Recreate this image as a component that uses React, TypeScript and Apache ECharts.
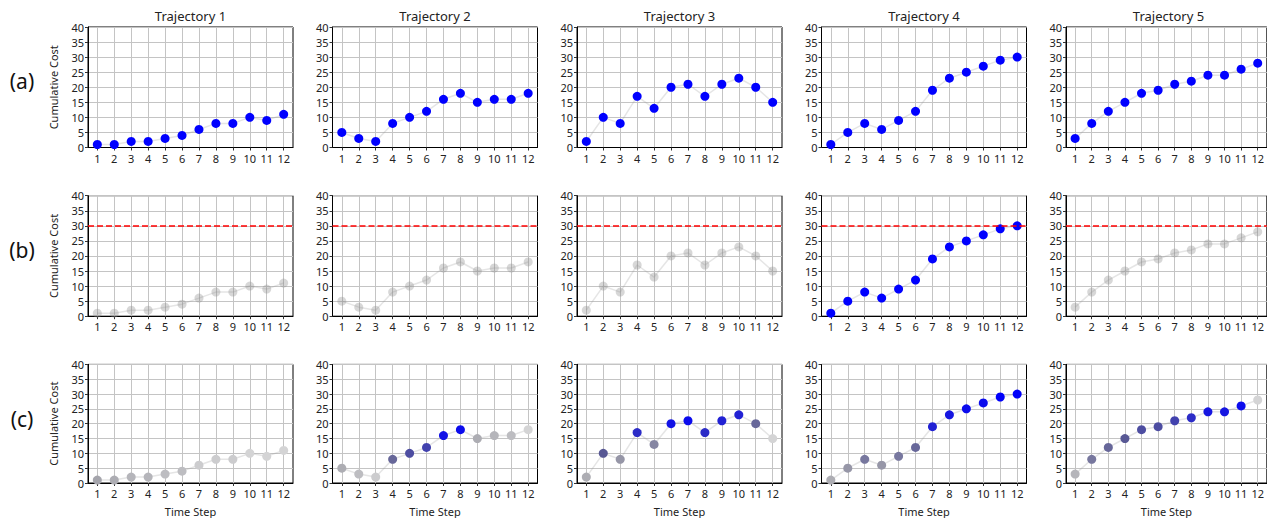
import React, { useEffect, useRef } from "react";
import * as echarts from "echarts";

// ---------- data ----------
const steps = [1, 2, 3, 4, 5, 6, 7, 8, 9, 10, 11, 12];
const trajectoryNames = ["Trajectory 1", "Trajectory 2", "Trajectory 3", "Trajectory 4", "Trajectory 5"];
const rowLabels = ["(a)", "(b)", "(c)"];

const costT1 = [1, 1, 2, 2, 3, 4, 6, 8, 8, 10, 9, 11];
const costT2 = [5, 3, 2, 8, 10, 12, 16, 18, 15, 16, 16, 18];
const costT3 = [2, 10, 8, 17, 13, 20, 21, 17, 21, 23, 20, 15];
const costT4 = [1, 5, 8, 6, 9, 12, 19, 23, 25, 27, 29, 30];
const costT5 = [3, 8, 12, 15, 18, 19, 21, 22, 24, 24, 26, 28];

// row (c): emphasis weight of each time step (0 = faded grey, 1 = full blue)
const weightT1 = [0.35, 0.3, 0.25, 0.25, 0.2, 0.2, 0.1, 0.1, 0.1, 0.05, 0.05, 0.05];
const weightT2 = [0.3, 0.2, 0.1, 0.55, 0.65, 0.7, 0.92, 0.95, 0.3, 0.25, 0.2, 0.05];
const weightT3 = [0.3, 0.6, 0.4, 0.8, 0.45, 0.92, 0.95, 0.8, 0.85, 0.85, 0.55, 0.05];
const weightT4 = [0.3, 0.4, 0.5, 0.4, 0.5, 0.55, 0.85, 0.9, 0.95, 0.95, 1, 1];
const weightT5 = [0.25, 0.5, 0.55, 0.6, 0.65, 0.65, 0.7, 0.8, 0.9, 0.9, 0.95, 0.05];

const yMin = 0;
const yMax = 40;
const yInterval = 5;
const costLimit = 30;
const highlightedInB = 3; // index of trajectory shown in blue in row (b)

const costs = [costT1, costT2, costT3, costT4, costT5];
const weights = [weightT1, weightT2, weightT3, weightT4, weightT5];

// ---------- styling ----------
const FONT = "'Noto Sans', 'Open Sans', sans-serif";
const BLUE = "#0000ff";
const FADED = "rgba(140,140,140,0.35)";
const LINE = "rgba(150,150,150,0.25)";

function lerp(a: number, b: number, t: number) {
  return a + (b - a) * t;
}
const stops: [number, number[]][] = [
  [0, [220, 220, 220]],
  [0.35, [165, 165, 172]],
  [0.6, [88, 88, 148]],
  [1, [0, 0, 250]],
];
function weightColor(w: number) {
  for (let i = 0; i < stops.length - 1; i++) {
    const [w0, c0] = stops[i];
    const [w1, c1] = stops[i + 1];
    if (w <= w1) {
      const t = (w - w0) / (w1 - w0);
      const c = c0.map((v, k) => Math.round(lerp(v, c1[k], t)));
      return `rgb(${c[0]},${c[1]},${c[2]})`;
    }
  }
  return "rgb(0,0,250)";
}

const colLeft = (c: number) => 88 + c * 244.5;
const rowTop = (r: number) => 27 + r * 168.7;
const PW = 205;
const PH = 120.5;

export default function App() {
  const ref = useRef<HTMLDivElement>(null);

  useEffect(() => {
    if (!ref.current) return;
    const chart = echarts.init(ref.current, undefined, { renderer: "svg" });

    const grids: any[] = [];
    const xAxes: any[] = [];
    const yAxes: any[] = [];
    const series: any[] = [];
    const graphics: any[] = [];

    for (let r = 0; r < 3; r++) {
      for (let c = 0; c < 5; c++) {
        const idx = r * 5 + c;
        grids.push({
          left: colLeft(c),
          top: rowTop(r),
          width: PW,
          height: PH,
          show: true,
          borderColor: "#000",
          borderWidth: 1,
          backgroundColor: "transparent",
          containLabel: false,
        });
        xAxes.push({
          type: "value",
          gridIndex: idx,
          min: 0.45,
          max: 12.55,
          name: r === 2 ? "Time Step" : "",
          nameLocation: "middle",
          nameGap: 23,
          nameTextStyle: { fontFamily: FONT, fontSize: 11, color: "#222" },
          axisLine: { show: true, lineStyle: { color: "#000", width: 1 } },
          axisTick: { show: true, length: 3, lineStyle: { color: "#333" }, customValues: steps },
          axisLabel: {
            show: true,
            customValues: steps,
            fontFamily: FONT,
            fontSize: 11,
            color: "#222",
            margin: 5,
          },
          splitLine: { show: true, lineStyle: { color: "#c4c4c4", width: 1 } },
        });
        yAxes.push({
          type: "value",
          gridIndex: idx,
          min: yMin,
          max: yMax,
          interval: yInterval,
          name: c === 0 ? "Cumulative Cost" : "",
          nameLocation: "middle",
          nameGap: 29,
          nameTextStyle: { fontFamily: FONT, fontSize: 11, color: "#222" },
          axisLine: { show: true, lineStyle: { color: "#000", width: 1 } },
          axisTick: { show: true, length: 3, lineStyle: { color: "#333" } },
          axisLabel: { fontFamily: FONT, fontSize: 11, color: "#222", margin: 4 },
          splitLine: { show: true, lineStyle: { color: "#c4c4c4", width: 1 } },
        });

        const vals = costs[c];
        const data = steps.map((s, i) => {
          let color = BLUE;
          if (r === 1) color = c === highlightedInB ? BLUE : FADED;
          if (r === 2) color = weightColor(weights[c][i]);
          return { value: [s, vals[i]], itemStyle: { color } };
        });

        const s: any = {
          type: "line",
          xAxisIndex: idx,
          yAxisIndex: idx,
          data,
          symbol: "circle",
          symbolSize: 9,
          showSymbol: true,
          lineStyle: { color: LINE, width: 1.5 },
          itemStyle: { color: BLUE },
          silent: true,
          z: 3,
        };
        if (r === 1) {
          s.markLine = {
            silent: true,
            symbol: ["none", "none"],
            label: { show: false },
            lineStyle: { color: "#ff0000", type: [6, 3], width: 1.5 },
            data: [{ yAxis: costLimit }],
          };
        }
        series.push(s);

        if (r === 0) {
          graphics.push({
            type: "text",
            x: colLeft(c) + PW / 2,
            y: 16,
            style: {
              text: trajectoryNames[c],
              font: `13px ${FONT}`,
              fill: "#222",
              textAlign: "center",
              textVerticalAlign: "middle",
            },
          });
        }
      }
      graphics.push({
        type: "text",
        x: 22,
        y: rowTop(r) + PH / 2 - 6,
        style: {
          text: rowLabels[r],
          font: `21px ${FONT}`,
          fill: "#111",
          textAlign: "center",
          textVerticalAlign: "middle",
        },
      });
    }

    chart.setOption({
      animation: false,
      backgroundColor: "#fff",
      grid: grids,
      xAxis: xAxes,
      yAxis: yAxes,
      series,
      graphic: graphics,
    });

    return () => chart.dispose();
  }, []);

  return (
    <div
      ref={ref}
      style={{ position: "absolute", left: 0, top: 0, width: 1267, height: 518 }}
    />
  );
}
